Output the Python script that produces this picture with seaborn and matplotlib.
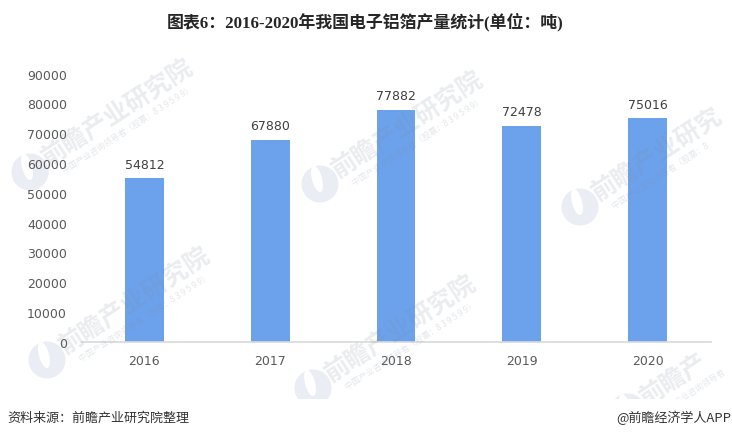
import pandas as pd
import seaborn as sns
import matplotlib.pyplot as plt
from matplotlib.patches import Ellipse, Rectangle

years = ["2016", "2017", "2018", "2019", "2020"]
output_tons = [54812, 67880, 77882, 72478, 75016]
y_ticks = [0, 10000, 20000, 30000, 40000, 50000, 60000, 70000, 80000, 90000]

# Watermark: logo position in pixels, then the part of name and slogan that stays in the picture
name = "前瞻产业研究院"
slogan = "中国产业咨询领导者（股票：8 3 9 5 9 9）"
watermarks = [
    (30, 173, name, slogan),
    (320, 185, name, slogan),
    (580, 208, name[:6], slogan[:15]),
    (47, 361, name, slogan),
    (313, 389, name, slogan),
    (628, 413, name[:3], slogan[:9]),
]

W, H = 732, 439

sns.set_theme(style="white")
plt.rcParams['font.family'] = ['DejaVu Sans', 'Noto Sans CJK SC']

df = pd.DataFrame({"year": years, "output": output_tons})

fig = plt.figure(figsize=(W / 100, H / 100), dpi=100)
ax = fig.add_axes([81.5 / W, 1 - 342.7 / H, 629 / W, 268 / H])

sns.barplot(data=df, x="year", y="output", color="#6ca2ec", saturation=1, width=0.31,
            linewidth=0, ax=ax)

ax.set_xlim(-0.5, 4.5)
ax.set_ylim(0, 90000)
ax.set_yticks(y_ticks)
ax.set_xlabel("")
ax.set_ylabel("")
ax.patch.set_alpha(0)
sns.despine(ax=ax, left=True)
ax.spines["bottom"].set_color("#d9d9d9")
ax.spines["bottom"].set_linewidth(1.2)
ax.tick_params(axis="both", length=0, labelsize=9, labelcolor="#595959")
ax.tick_params(axis="x", pad=9)
ax.tick_params(axis="y", pad=10.5)

# Value labels over the bars
for container in ax.containers:
    ax.bar_label(container, labels=[str(v) for v in output_tons], padding=5.5, fontsize=9, color="#404040")

# Faint repeated watermark: logos behind the axes, names over the bars
for lx, ly, wm_name, wm_slogan in watermarks:
    fig.add_artist(Ellipse((lx / 100, (H - ly) / 100), 0.37, 0.37, transform=fig.dpi_scale_trans,
                           color="#eaedf3", lw=0, zorder=-2))
    fig.add_artist(Ellipse(((lx - 3) / 100, (H - ly + 5) / 100), 0.1, 0.27, angle=15,
                           transform=fig.dpi_scale_trans, color="white", lw=0, zorder=-1))
    fig.text((lx + 15) / W, 1 - (ly - 12) / H, wm_name, family=['Noto Sans CJK SC'],
             fontsize=18, fontweight="bold", color="#7f8a9e", alpha=0.16, rotation=33,
             ha="left", va="center", rotation_mode="anchor", zorder=4)
    fig.text((lx + 33) / W, 1 - (ly - 1) / H, wm_slogan, family=['Noto Sans CJK SC'],
             fontsize=6, color="#7f8a9e", alpha=0.2, rotation=33,
             ha="left", va="center", rotation_mode="anchor", zorder=4)

# Footer band hides the watermark below the chart
fig.add_artist(Rectangle((0, 0), 1, 39 / H, transform=fig.transFigure, color="white", lw=0, zorder=5))

# Title and footer
fig.text(365.5 / W, 1 - 22 / H, "图表6：2016-2020年我国电子铝箔产量统计(单位：吨)",
         family=['Liberation Serif', 'Noto Sans CJK SC'], fontsize=12.2, fontweight="bold",
         color="#262626", ha="center", va="center", zorder=6)
fig.text(7 / W, 1 - 418 / H, "资料来源：前瞻产业研究院整理", family=['Noto Sans CJK SC'],
         fontsize=9.4, color="#333333", ha="left", va="center", zorder=6)
fig.text(731 / W, 1 - 418 / H, "@前瞻经济学人APP", family=['Noto Sans CJK SC'],
         fontsize=9.4, color="#333333", ha="right", va="center", zorder=6)

fig.savefig("out.png", dpi=100)
